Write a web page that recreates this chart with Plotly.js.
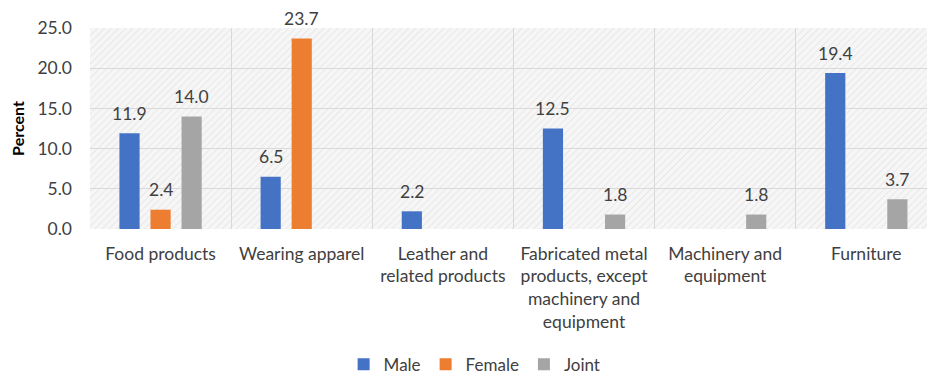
<!DOCTYPE html>
<html>
<head>
<meta charset="utf-8">
<script src="https://cdn.plot.ly/plotly-3.0.1.min.js"></script>
<style>
  html, body { margin: 0; padding: 0; background: #ffffff; }
  #chart { width: 927px; height: 378px; }
</style>
</head>
<body>
<div id="chart"></div>
<script>
// Share of businesses by sector and owner sex (percent)
const categories = [
  "Food products",
  "Wearing apparel",
  "Leather and<br>related products",
  "Fabricated metal<br>products, except<br>machinery and<br>equipment",
  "Machinery and<br>equipment",
  "Furniture"
];
const maleValues   = [11.9, 6.5, 2.2, 12.5, null, 19.4];
const femaleValues = [2.4, 23.7, null, null, null, null];
const jointValues  = [14.0, null, null, 1.8, 1.8, 3.7];
const yTicks = [0, 5, 10, 15, 20, 25];

const seriesNames  = ["Male", "Female", "Joint"];
const seriesColors = ["#4472C4", "#ED7D31", "#A5A5A5"];
const seriesValues = [maleValues, femaleValues, jointValues];

const FONT = "Lato, sans-serif";
const TEXT = "#404040";
const FS = 17.5;

const W = 927, H = 378;
const margin = { l: 90, r: 0, t: 28, b: 149 };
const xRange = [-0.5, 5.43];
const bargap = 0.34, bargroupgap = 0.35;

const plotW = W - margin.l - margin.r;
const plotH = H - margin.t - margin.b;
const catPx = plotW / (xRange[1] - xRange[0]);
const slotPx = catPx * (1 - bargap) / seriesNames.length;

const traces = seriesNames.map((name, i) => ({
  type: "bar",
  name: name,
  x: categories,
  y: seriesValues[i],
  marker: { color: seriesColors[i] },
  hoverinfo: "skip"
}));

// value labels above each bar
const annotations = [];
seriesValues.forEach((vals, i) => {
  vals.forEach((v, j) => {
    if (v === null) return;
    annotations.push({
      x: categories[j], y: v, xref: "x", yref: "y",
      text: v.toFixed(1), showarrow: false,
      xshift: (i - 1) * slotPx, yshift: 20,
      yanchor: "middle", xanchor: "center",
      font: { family: FONT, size: FS, color: TEXT }
    });
  });
});

// light diagonal hatch for the plot area
const hatchSvg =
  '<svg xmlns="http://www.w3.org/2000/svg" width="' + plotW + '" height="' + plotH + '">' +
  '<defs><pattern id="h" width="5" height="5" patternUnits="userSpaceOnUse" patternTransform="rotate(45)">' +
  '<rect width="5" height="5" fill="#f6f6f6"/>' +
  '<line x1="0" y1="0" x2="0" y2="5" stroke="#e2e2e2" stroke-width="1.4"/></pattern></defs>' +
  '<rect width="100%" height="100%" fill="url(#h)"/></svg>';

const layout = {
  width: W, height: H,
  margin: margin,
  paper_bgcolor: "#ffffff",
  plot_bgcolor: "rgba(0,0,0,0)",
  barmode: "group",
  bargap: bargap,
  bargroupgap: bargroupgap,
  font: { family: FONT, size: FS, color: TEXT },
  showlegend: true,
  legend: {
    orientation: "h",
    xref: "container", yref: "container",
    x: 0.512, xanchor: "center",
    y: 0.035, yanchor: "middle",
    font: { family: FONT, size: 17, color: TEXT },
    itemwidth: 30,
    tracegroupgap: 0,
    traceorder: "normal"
  },
  xaxis: {
    type: "category",
    range: xRange,
    tickson: "boundaries",
    showgrid: true,
    gridcolor: "#d9d9d9",
    gridwidth: 1,
    showline: false,
    zeroline: false,
    ticks: "",
    ticklabelstandoff: 12,
    tickfont: { family: FONT, size: FS, color: TEXT },
    fixedrange: true
  },
  yaxis: {
    range: [0, 25],
    tickvals: yTicks,
    tickformat: ".1f",
    showgrid: true,
    gridcolor: "#d9d9d9",
    gridwidth: 1,
    zeroline: false,
    showline: false,
    ticks: "",
    ticklabelstandoff: 17,
    tickfont: { family: FONT, size: FS, color: TEXT },
    title: {
      text: "<b>Percent</b>",
      font: { family: FONT, size: 16, color: "#000000" },
      standoff: 8
    },
    fixedrange: true
  },
  images: [{
    source: "data:image/svg+xml;charset=utf-8," + encodeURIComponent(hatchSvg),
    xref: "paper", yref: "paper",
    x: 0, y: 1, sizex: 1, sizey: 1,
    xanchor: "left", yanchor: "top",
    sizing: "stretch", layer: "below"
  }],
  annotations: annotations
};

Plotly.newPlot("chart", traces, layout, { displayModeBar: false, staticPlot: true });
</script>
</body>
</html>
